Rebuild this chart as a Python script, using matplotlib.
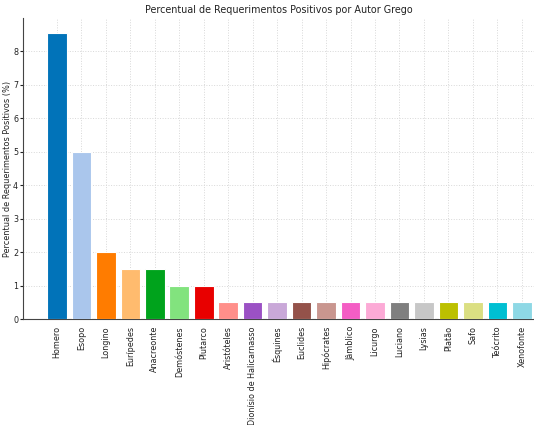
import matplotlib
matplotlib.use("Agg")
import matplotlib.pyplot as plt

autores = ["Homero", "Esopo", "Longino", "Eurípedes", "Anacreonte", "Demóstenes",
           "Plutarco", "Aristóteles", "Dionísio de Halicarnasso", "Ésquines", "Euclides",
           "Hipócrates", "Jâmblico", "Licurgo", "Luciano", "Lysias", "Platão", "Safo",
           "Teócrito", "Xenofonte"]
percentual = [8.54, 5.0, 2.0, 1.5, 1.5, 1.0, 1.0, 0.5, 0.5, 0.5, 0.5,
              0.5, 0.5, 0.5, 0.5, 0.5, 0.5, 0.5, 0.5, 0.5]
cores = ["#0173b9", "#aac6ec", "#ff7c00", "#ffbb6e", "#00a31c", "#82e37e",
         "#e80000", "#ff8f8a", "#9b51c4", "#c9a8d8", "#94524a", "#c9968f",
         "#f45dc4", "#fcaad6", "#7f7f7f", "#c7c7c7", "#bcc000", "#dbdf82",
         "#00bfd2", "#8ed8e5"]

fig = plt.figure(figsize=(5.34, 4.25), dpi=100)
ax = fig.add_axes([0.043, 0.249, 0.957, 0.708])

x = list(range(len(autores)))
ax.bar(x, percentual, color=cores, width=0.8, edgecolor="white", linewidth=0.8, zorder=3)

ax.set_title("Percentual de Requerimentos Positivos por Autor Grego", fontsize=6.9,
             color="#222222", pad=4)
ax.set_ylabel("Percentual de Requerimentos Positivos (%)", fontsize=5.9, color="#222222")
ax.yaxis.set_label_coords(-0.021, 0.5)
ax.set_xticks(x)
ax.set_xticklabels(autores, rotation=90, fontsize=5.8, color="#222222")
ax.tick_params(axis="y", labelsize=5.8, colors="#222222", length=2, pad=1.5)
ax.tick_params(axis="x", length=0, pad=5)
ax.set_xlim(-1.39, 19.5)
ax.set_ylim(0, 8.98)

ax.grid(True, linestyle=":", color="#d8d8d8", linewidth=0.7, zorder=0)
for side in ["top", "right"]:
    ax.spines[side].set_visible(False)
for side in ["left", "bottom"]:
    ax.spines[side].set_color("#444444")
    ax.spines[side].set_linewidth(0.8)

fig.savefig("out.png", dpi=100)
